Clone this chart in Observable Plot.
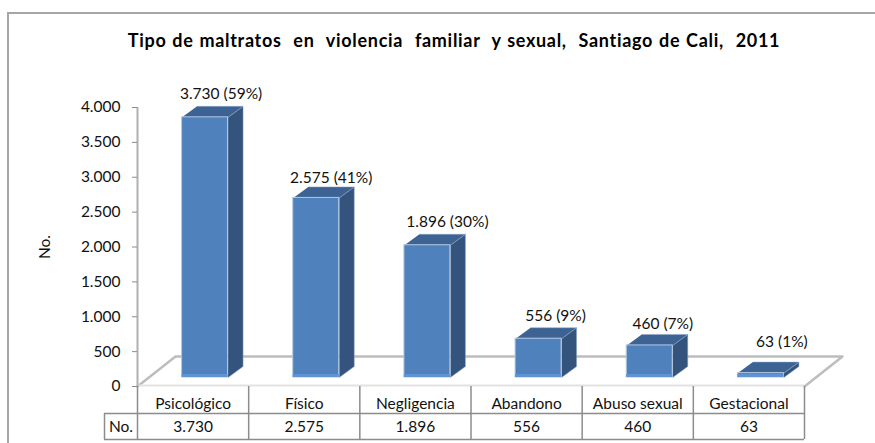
<!DOCTYPE html>
<html><head><meta charset="utf-8">
<script src="https://cdn.jsdelivr.net/npm/d3@7"></script>
<script src="https://cdn.jsdelivr.net/npm/@observablehq/plot@0.6"></script>
<style>
html,body{margin:0;padding:0;background:#fff;overflow:hidden}
#wrap{position:relative;width:875px;height:443px}
#frame{position:absolute;left:7px;top:12px;right:0;bottom:0;border-top:2px solid #a6a6a6;border-left:2px solid #a6a6a6;pointer-events:none}
svg{display:block}
.chart-title text{letter-spacing:.7px;word-spacing:.8px}
</style></head><body>
<div id="wrap"><div id="frame"></div></div>
<script>
const categories = ["Psicológico","Físico","Negligencia","Abandono","Abuso sexual","Gestacional"];
const values = [3730,2575,1896,556,460,63];
const percents = [59,41,30,9,7,1];
const yTicks = [0,500,1000,1500,2000,2500,3000,3500,4000];
const titleText = "Tipo de maltratos  en  violencia  familiar  y sexual,  Santiago de Cali,  2011";

// Page geometry
const W=875,H=443,mL=137,mR=71,mT=107,mB=57;
const pxX=(W-mL-mR)/categories.length;       // pixels per category
const pxY=(H-mT-mB)/4000;                    // pixels per unit
const ux=p=>p/pxX, uy=p=>p/pxY;              // pixel lengths to data lengths
const fmt=n=>d3.format(",")(n).replace(/,/g,".");

// 3D look: floor depth, bar inset from the front of the floor, bar depth
const floor={dx:ux(38),dy:uy(30)};
const inset={dx:ux(12),dy:uy(9)};
const depth={dx:ux(15),dy:uy(11)};
const halfW=ux(23);
// label placement relative to each bar's value, in pixels
const labelShiftX=[28,27,32,29,25,33];
const labelShiftY=[32,29,32,32,30,40];

const rows=categories.map((c,i)=>({c,i,v:values[i],p:percents[i],cx:i+.5+inset.dx,y0:inset.dy}));
const poly=(id,pts)=>pts.map(([x,y])=>({id,x,y}));
const sides=rows.flatMap(r=>poly("s"+r.i,[
  [r.cx+halfW,r.y0],[r.cx+halfW+depth.dx,r.y0+depth.dy],
  [r.cx+halfW+depth.dx,r.y0+r.v+depth.dy],[r.cx+halfW,r.y0+r.v]]));
const tops=rows.flatMap(r=>poly("t"+r.i,[
  [r.cx-halfW,r.y0+r.v],[r.cx+halfW,r.y0+r.v],
  [r.cx+halfW+depth.dx,r.y0+r.v+depth.dy],[r.cx-halfW+depth.dx,r.y0+r.v+depth.dy]]));
const floorEdge=[[0,0],[floor.dx,floor.dy],[6+floor.dx,floor.dy],[6,0]].map(([x,y])=>({x,y}));

const n=categories.length;
const rowA=uy(-27), rowB=uy(-53), noX=ux(-33);
const cellX=d3.range(n+1);

const chart=Plot.plot({
  width:W,height:H,marginLeft:mL,marginRight:mR,marginTop:mT,marginBottom:mB,
  style:{fontFamily:"Lato, sans-serif",fontSize:"15.5px",color:"#111",background:"transparent"},
  x:{type:"linear",domain:[0,n],axis:null},
  y:{domain:[0,4000]},
  marks:[
    // floor
    Plot.line(floorEdge,{x:"x",y:"y",stroke:"#bdbdbd",strokeWidth:2.5}),
    Plot.ruleY([0],{x1:0,x2:n,stroke:"#e2e2e2",strokeWidth:2,dy:-1}),
    // bars
    Plot.line(sides,{x:"x",y:"y",z:"id",fill:"#34547e",stroke:"#8ea6c4",strokeWidth:.5}),
    Plot.line(tops,{x:"x",y:"y",z:"id",fill:"#3c6394",stroke:"#8ea6c4",strokeWidth:.5}),
    Plot.rectY(rows,{x1:d=>d.cx-halfW,x2:d=>d.cx+halfW,y1:d=>d.y0,y2:d=>d.y0+d.v,fill:"#4f81bd",stroke:"#b4c8e0",strokeWidth:1}),
    Plot.rectY(rows,{x1:d=>d.cx-halfW,x2:d=>d.cx+halfW,y1:d=>d.y0,y2:d=>d.y0+Math.min(d.v,uy(3)),fill:"#5f93d3"}),
    // value labels
    Plot.text(rows,{x:d=>d.i+.5+ux(labelShiftX[d.i]),y:d=>d.v+uy(labelShiftY[d.i]),text:d=>`${fmt(d.v)} (${d.p}%)`,fontSize:15.5}),
    // y axis
    Plot.ruleX([0],{y1:0,y2:4000,stroke:"#b0b0b0",strokeWidth:2}),
    Plot.axisY({ticks:yTicks,tickFormat:fmt,tickSize:5,tickPadding:12,fontSize:15.5,stroke:"#8c8c8c",
      label:"No.",labelAnchor:"center",labelArrow:"none",labelOffset:99}),
    // table
    Plot.ruleX(cellX,{x:d=>d,y1:0,y2:rowB,stroke:"#8c8c8c",strokeWidth:1.5}),
    Plot.ruleY([rowA],{x1:noX,x2:n,stroke:"#8c8c8c",strokeWidth:1.5}),
    Plot.ruleY([rowB],{x1:noX,x2:n,stroke:"#8c8c8c",strokeWidth:1.5}),
    Plot.ruleX([noX],{y1:rowA,y2:rowB,stroke:"#8c8c8c",strokeWidth:1.5}),
    Plot.text(rows,{x:d=>d.i+.5,y:uy(-17.5),text:"c",fontSize:15.5}),
    Plot.text(rows,{x:d=>d.i+.5,y:uy(-41),text:d=>fmt(d.v),fontSize:15.5}),
    Plot.text(["No."],{x:noX/2,y:uy(-41),text:d=>d,fontSize:15.5}),
    // title
    Plot.text([titleText],{frameAnchor:"top",dx:-17,dy:-73,text:d=>d,fontWeight:"bold",fontSize:18,fill:"#000",className:"chart-title"})
  ]
});
document.getElementById("wrap").prepend(chart);
</script>
</body></html>
